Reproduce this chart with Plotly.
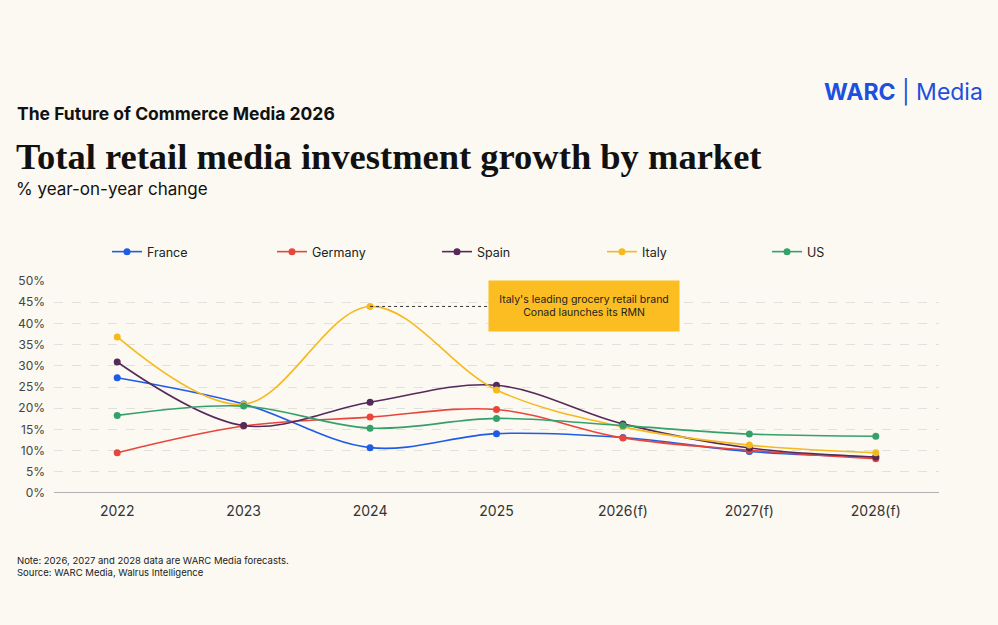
import plotly.graph_objects as go

years = ['2022', '2023', '2024', '2025', '2026(f)', '2027(f)', '2028(f)']

france = [27.2, 21.0, 10.7, 14.0, 13.1, 9.8, 8.5]
germany = [9.5, 15.8, 17.9, 19.7, 13.0, 10.1, 8.1]
spain = [30.9, 15.9, 21.4, 25.4, 16.3, 10.6, 8.5]
italy = [36.8, 20.9, 44.0, 24.3, 15.6, 11.3, 9.5]
us = [18.3, 20.5, 15.3, 17.6, 15.9, 13.9, 13.4]

series = [
    ('France', france, '#1f5ce6'),
    ('Germany', germany, '#e8453c'),
    ('Spain', spain, '#55295a'),
    ('Italy', italy, '#f6b91d'),
    ('US', us, '#36a06b'),
]

y_ticks = [0, 5, 10, 15, 20, 25, 30, 35, 40, 45, 50]

bg = '#fbf9f1'
sans = 'Inter, Roboto, sans-serif'

fig = go.Figure()
for name, vals, col in series:
    fig.add_trace(go.Scatter(
        x=years, y=vals, name=name,
        mode='lines+markers',
        line=dict(color=col, width=1.6, shape='spline', smoothing=1),
        marker=dict(color=col, size=7),
    ))

# plot-area pixel helpers for the text blocks outside the axes
L, R, T, B = 54, 59, 281, 132
pw, ph = 998 - L - R, 625 - T - B


def px(x):
    return (x - L) / pw


def py(y):
    return (625 - B - y) / ph


annots = [
    dict(x=px(15), y=py(113), text='<b>The Future of Commerce Media 2026</b>',
         font=dict(family=sans, size=17.5, color='#111')),
    dict(x=px(14), y=py(156), text='<b>Total retail media investment growth by market</b>',
         font=dict(family='Liberation Serif, serif', size=36.5, color='#111')),
    dict(x=px(14), y=py(189), text='% year-on-year change',
         font=dict(family=sans, size=17, color='#111')),
    dict(x=px(15), y=py(566),
         text='Note: 2026, 2027 and 2028 data are WARC Media forecasts.<br>Source: WARC Media, Walrus Intelligence',
         font=dict(family=sans, size=9.5, color='#222'), align='left'),
]
for a in annots:
    fig.add_annotation(xref='paper', yref='paper', xanchor='left', yanchor='middle',
                       showarrow=False, **a)

fig.add_annotation(xref='paper', yref='paper', x=px(985), y=py(92),
                   xanchor='right', yanchor='middle', showarrow=False,
                   text='<b>WARC</b> | Media',
                   font=dict(family=sans, size=23, color='#1d4fe0'))

# callout for Italy 2024
fig.add_shape(type='line', xref='x', yref='y', x0=2, y0=44, x1=2.93, y1=44,
              line=dict(color='#333', width=1, dash='dot'))
fig.add_annotation(xref='x', yref='y', x=2.93, y=44, xanchor='left', yanchor='middle',
                   showarrow=False, width=180, height=40, borderpad=5,
                   bgcolor='#fbbd22',
                   text="Italy's leading grocery retail brand<br>Conad launches its RMN",
                   font=dict(family=sans, size=10.5, color='#222'))

fig.update_layout(
    width=998, height=625,
    paper_bgcolor=bg, plot_bgcolor=bg,
    margin=dict(l=L, r=R, t=T, b=B, autoexpand=False),
    font=dict(family=sans, color='#333'),
    showlegend=True,
    legend=dict(orientation='h', xref='container', yref='container',
                x=107 / 998, y=1 - 252 / 625, xanchor='left', yanchor='middle',
                entrywidth=120, entrywidthmode='pixels', itemwidth=30,
                font=dict(family=sans, size=12.5, color='#222'), bgcolor='rgba(0,0,0,0)'),
    xaxis=dict(type='category', range=[-0.5, 6.5], showgrid=False, zeroline=False,
               showline=False, ticks='', ticklabelstandoff=8,
               tickfont=dict(size=14, color='#333')),
    yaxis=dict(range=[0, 50], tickvals=y_ticks, ticktext=[f'{t}%' for t in y_ticks],
               showgrid=True, gridcolor='#e2e0da', griddash='dash', gridwidth=1,
               zeroline=False, showline=False, ticks='', ticklabelstandoff=8,
               tickfont=dict(size=12, color='#444')),
    hovermode=False,
)
fig.add_shape(type='line', xref='paper', yref='y', x0=0, x1=1, y0=0, y1=0,
              line=dict(color='#999', width=1.5))

fig.write_html('out.html', config={'displayModeBar': False},
               post_script="document.body.style.margin='0';document.body.style.background='%s';" % bg)
